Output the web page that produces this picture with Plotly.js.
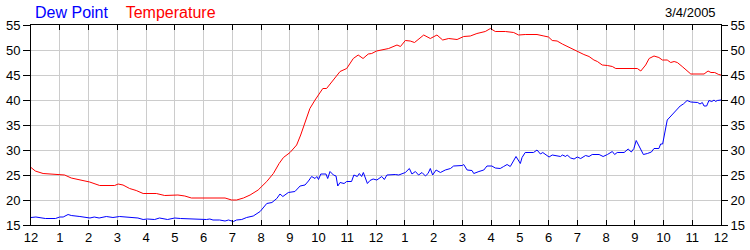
<!DOCTYPE html>
<html>
<head>
<meta charset="utf-8">
<script src="https://cdn.plot.ly/plotly-3.0.1.min.js"></script>
<style>
  html, body { margin: 0; padding: 0; background: #fff; }
  #chart { width: 750px; height: 250px; }
</style>
</head>
<body>
<div id="chart"></div>
<script>
// Hours since midnight (0..24) and readings
const tempHours = [0,0.15,0.42,0.9,1.17,1.4,1.75,2.04,2.39,2.91,3.03,3.2,3.43,3.66,3.9,4.36,4.65,5.0,5.11,5.35,5.58,6.75,6.98,7.15,7.39,7.62,7.9,8.2,8.43,8.63,8.78,9.01,9.24,9.38,9.53,9.7,9.88,10.15,10.28,10.46,10.75,10.98,11.21,11.38,11.55,11.73,11.85,12.02,12.15,12.44,12.73,12.85,13.02,13.19,13.34,13.66,13.89,14.12,14.32,14.53,14.82,15.05,15.28,15.51,15.8,15.98,16.15,16.5,16.79,16.96,17.19,17.6,17.84,18.0,18.13,18.3,18.48,18.65,18.89,19.06,19.23,19.41,19.58,19.7,19.87,20.05,20.22,20.34,21.09,21.21,21.38,21.5,21.67,21.84,21.96,22.13,22.25,22.37,22.48,22.65,22.83,22.95,23.41,23.55,23.65,23.78,23.92,24];
const tempValues = [26.5,25.8,25.3,25.2,25.0,24.4,24.0,23.6,22.9,22.9,23.2,23.0,22.3,21.9,21.3,21.3,20.9,20.9,21.0,20.8,20.4,20.4,20.0,20.0,20.4,21.0,22.0,23.7,25.3,27.3,28.5,29.5,31.0,33.0,35.3,38.3,40.0,42.3,42.3,43.7,45.7,46.3,48.3,49.0,48.3,49.2,49.3,49.8,50.0,50.3,51.0,50.7,51.9,51.8,51.5,53.0,52.3,53.0,52.0,52.3,52.1,52.7,52.8,53.3,53.7,54.3,53.7,53.7,53.5,53.0,53.1,53.1,52.8,52.6,51.9,51.8,51.2,50.7,50.0,49.5,49.1,48.7,48.0,47.7,47.0,46.9,46.7,46.3,46.3,45.8,47.0,48.3,48.8,48.5,48.0,48.0,47.5,47.7,47.5,46.7,45.7,45.2,45.2,45.8,45.5,45.5,45.1,45.0];

const dewHours = [0,0.1,0.17,0.5,0.85,1.0,1.12,1.29,1.4,1.7,1.93,2.05,2.2,2.37,2.62,2.85,3.08,3.25,3.72,3.9,4.05,4.3,4.47,4.75,5.0,5.2,5.6,5.98,6.1,6.22,6.33,6.56,6.68,6.75,6.87,7.04,7.15,7.33,7.5,7.73,7.97,8.2,8.38,8.55,8.66,8.76,8.95,9.18,9.36,9.53,9.65,9.76,9.88,9.94,10.0,10.08,10.26,10.32,10.4,10.52,10.61,10.67,10.75,10.89,10.98,11.15,11.23,11.35,11.42,11.5,11.56,11.7,11.79,11.9,12.03,12.2,12.29,12.38,12.67,12.79,13.02,13.16,13.25,13.37,13.48,13.6,13.72,13.81,13.89,13.97,14.09,14.24,14.41,14.59,14.7,15.0,15.05,15.17,15.34,15.4,15.58,15.75,15.86,16.03,16.15,16.32,16.44,16.56,16.67,16.79,16.87,17.02,17.08,17.19,17.48,17.6,17.72,17.8,17.9,18.02,18.13,18.31,18.42,18.48,18.6,18.65,18.77,18.89,19.0,19.12,19.29,19.41,19.52,19.76,19.9,20.05,20.22,20.3,20.39,20.63,20.77,20.88,20.97,21.05,21.2,21.3,21.44,21.58,21.67,21.84,21.9,21.97,22.13,22.25,22.42,22.58,22.69,22.82,22.95,23.19,23.27,23.35,23.41,23.5,23.58,23.68,23.76,23.81,23.87,24];
const dewValues = [16.5,16.5,16.6,16.3,16.3,16.6,16.6,17.1,16.9,16.7,16.6,16.4,16.6,16.4,16.7,16.5,16.7,16.6,16.4,16.1,16.2,16.1,16.4,16.1,16.4,16.3,16.2,16.0,16.1,16.2,16.0,16.0,15.8,15.8,16.0,15.7,16.0,16.1,16.5,16.8,17.7,19.3,19.5,20.3,21.2,20.7,21.5,21.7,22.8,23.0,23.8,24.7,24.3,24.7,24.1,25.2,25.2,24.3,25.7,25.0,24.8,22.8,23.5,23.3,23.7,23.7,25.0,24.7,25.3,24.7,25.5,23.3,23.9,24.2,24.0,24.7,24.1,25.0,25.1,25.0,25.5,26.3,25.2,25.7,25.0,25.5,24.8,25.3,26.3,25.0,26.0,25.5,26.0,26.3,26.8,26.9,27.1,26.0,25.9,25.3,25.7,26.0,26.8,26.8,26.4,26.3,26.7,27.1,26.7,28.1,28.7,27.3,28.5,29.5,29.5,30.0,29.2,29.5,29.1,28.6,29.0,28.9,28.7,29.0,28.7,29.0,28.4,28.2,28.6,28.3,28.9,28.7,29.1,29.1,28.7,29.1,29.7,29.1,29.5,29.5,30.2,29.6,30.3,31.9,30.2,29.1,29.3,29.6,30.3,30.3,31.2,31.2,36.0,36.7,37.7,38.8,39.2,39.9,39.6,39.5,39.2,39.5,38.8,38.8,39.9,39.7,40.0,39.7,39.9,40.0];

const hourTicks = [0,1,2,3,4,5,6,7,8,9,10,11,12,13,14,15,16,17,18,19,20,21,22,23,24];
const hourLabels = ['12','1','2','3','4','5','6','7','8','9','10','11','12','1','2','3','4','5','6','7','8','9','10','11','12'];
const yTicks = [15,20,25,30,35,40,45,50,55];
const seriesNames = ['Dew Point','Temperature'];
const dateLabel = '3/4/2005';

const FONT = 'Arial, "Liberation Sans", sans-serif';

const traces = [
  {x: tempHours, y: tempValues, type: 'scatter', mode: 'lines', name: seriesNames[1],
   line: {color: '#ff0000', width: 1}, hoverinfo: 'skip'},
  {x: dewHours, y: dewValues, type: 'scatter', mode: 'lines', name: seriesNames[0],
   yaxis: 'y2', line: {color: '#0000ff', width: 1}, hoverinfo: 'skip'}
];

const yCommon = {
  range: [15, 55], tickvals: yTicks, ticktext: yTicks.map(String),
  ticks: 'outside', ticklen: 7, tickcolor: '#000', tickwidth: 1,
  showline: true, linecolor: '#000', linewidth: 1,
  tickfont: {family: FONT, size: 13, color: '#000'},
  zeroline: false, fixedrange: true
};

const titleText = '<span style="color:#0000ff">' + seriesNames[0] + '</span>' +
  '&nbsp;&nbsp;&nbsp;&nbsp;<span style="color:#ff0000">' + seriesNames[1] + '</span>';

const layout = {
  width: 750, height: 250,
  margin: {l: 31, r: 29, t: 25, b: 25, pad: 0},
  paper_bgcolor: '#fff', plot_bgcolor: '#fff',
  showlegend: false,
  xaxis: {
    range: [0, 24], tickvals: hourTicks, ticktext: hourLabels,
    ticks: 'inside', ticklen: 5, tickcolor: '#000', tickwidth: 1,
    showline: true, linecolor: '#000', linewidth: 1, mirror: 'ticks',
    showgrid: true, gridcolor: '#cccccc', gridwidth: 1,
    tickfont: {family: FONT, size: 13, color: '#000'},
    zeroline: false, fixedrange: true
  },
  yaxis: Object.assign({}, yCommon, {side: 'left', showgrid: true, gridcolor: '#cccccc', gridwidth: 1}),
  yaxis2: Object.assign({}, yCommon, {side: 'right', overlaying: 'y', showgrid: false, ticklen: 6}),
  annotations: [
    {text: titleText, xref: 'paper', yref: 'paper', x: 2/690, y: 1 + 13/200,
     xanchor: 'left', yanchor: 'middle', showarrow: false, align: 'left',
     font: {family: FONT, size: 16, color: '#0000ff'}},
    {text: dateLabel, xref: 'paper', yref: 'paper', x: 687/690, y: 1 + 12/200,
     xanchor: 'right', yanchor: 'middle', showarrow: false,
     font: {family: FONT, size: 13, color: '#000'}}
  ]
};

Plotly.newPlot('chart', traces, layout, {staticPlot: true, displayModeBar: false});
</script>
</body>
</html>
